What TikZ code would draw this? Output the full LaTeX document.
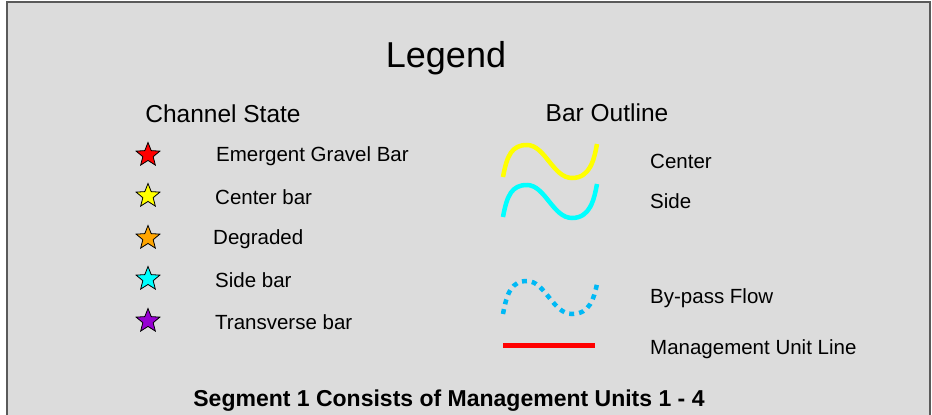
\documentclass[tikz,border=0pt]{standalone}
\usepackage{fontspec}
\setmainfont{Liberation Sans}
\usetikzlibrary{shapes.geometric}
\definecolor{bg}{RGB}{220,220,220}
\definecolor{frame}{RGB}{90,90,90}
\definecolor{bypass}{RGB}{0,185,245}
\definecolor{staryellow}{RGB}{255,255,0}
\definecolor{starcyan}{RGB}{0,255,255}
\definecolor{starred}{RGB}{255,0,0}
\definecolor{starorange}{RGB}{255,165,0}
\definecolor{starpurple}{RGB}{150,0,210}
\tikzset{
  mystar/.style={star, star points=5, star point ratio=2.3, minimum size=25pt, inner sep=0pt, draw=black, line width=0.8pt},
  item/.style={anchor=west, font=\fontsize{20.5}{20.5}\selectfont, inner sep=0pt},
  head/.style={font=\fontsize{24.5}{24.5}\selectfont, inner sep=0pt},
  wave/.style={line width=4.5pt},
}
\begin{document}
\begin{tikzpicture}[x=1pt,y=-1pt]
\useasboundingbox (0,0) rectangle (932,415);
\fill[bg] (7,2) rectangle (930,415);
\draw[frame, line width=2pt] (7,415) -- (7,2) -- (930,2) -- (930,415);

\node[font=\fontsize{36}{36}\selectfont, inner sep=0pt] (title) at (446,58) {Legend};
\node[head] (cs) at (223,114) {Channel State};
\node[head] (bo) at (607,113) {Bar Outline};

\node[mystar, fill=starred] (s1) at (148,155) {};
\node[mystar, fill=staryellow] (s2) at (148,196) {};
\node[mystar, fill=starorange] (s3) at (148,238) {};
\node[mystar, fill=starcyan] (s4) at (148,279) {};
\node[mystar, fill=starpurple] (s5) at (148,321) {};

\node[item] (t1) at (216,156) {Emergent Gravel Bar};
\node[item] (t2) at (215,197) {Center bar};
\node[item] (t3) at (213,239) {Degraded};
\node[item] (t4) at (215,280) {Side bar};
\node[item] (t5) at (215,322) {Transverse bar};

\draw[wave, staryellow] (503,177) .. controls (507,155) and (512,145) .. (527,145)
  .. controls (545,145) and (553,178) .. (572,178)
  .. controls (590,178) and (594,160) .. (597,144);
\draw[wave, starcyan] (503,217) .. controls (507,195) and (512,185) .. (527,185)
  .. controls (545,185) and (553,218) .. (572,218)
  .. controls (590,218) and (594,200) .. (597,184);
\draw[wave, bypass, dash pattern=on 5pt off 5pt] (503,314) .. controls (507,292) and (512,281) .. (527,281)
  .. controls (545,281) and (553,314) .. (572,314)
  .. controls (590,314) and (594,298) .. (597,284);
\coordinate (ra) at (503,345);
\coordinate (rb) at (595,345);
\draw[starred, line width=5pt] (ra) -- (rb);

\node[item] (c1) at (650,161) {Center};
\node[item] (c2) at (650,201) {Side};
\node[item] (c3) at (650,298) {By-pass Flow};
\node[item] (c4) at (650,349) {Management Unit Line};

\node[font=\bfseries\fontsize{23}{23}\selectfont, inner sep=0pt] (foot) at (449,401) {Segment 1 Consists of Management Units 1 - 4};
\end{tikzpicture}
\end{document}
